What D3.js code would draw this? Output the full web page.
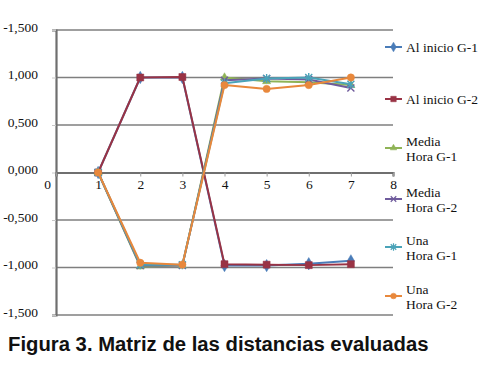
<!DOCTYPE html>
<html lang="es">
<head>
  <meta charset="UTF-8">
  <title>Matriz de las distancias evaluadas</title>
  <script src="https://d3js.org/d3.v7.min.js"></script>
  <style>
    body { margin: 0; background: #fff; }
  </style>
</head>
<body>
<svg width="481" height="369"></svg>
<script>
  // data
  var xs = [1, 2, 3, 4, 5, 6, 7];
  var alInicioG1 = [0, 1.000, 1.000, -0.980, -0.980, -0.960, -0.930];
  var alInicioG2 = [0, 1.000, 1.005, -0.965, -0.970, -0.975, -0.965];
  var mediaHoraG1 = [0, -0.990, -0.980, 1.000, 0.960, 0.950, 0.920];
  var mediaHoraG2 = [0, -0.980, -0.980, 0.970, 0.990, 0.980, 0.890];
  var unaHoraG1 = [0, -0.970, -0.970, 0.940, 0.990, 1.000, 0.930];
  var unaHoraG2 = [0, -0.950, -0.970, 0.920, 0.880, 0.920, 1.000];

  var yTicks = [-1.5, -1, -0.5, 0, 0.5, 1, 1.5];
  var yTickLabels = ['-1,500', '-1,000', '-0,500', '0,000', '0,500', '1,000', '-1,500'];
  var xTicks = [0, 1, 2, 3, 4, 5, 6, 7, 8];

  var series = [
    {name: ['Al inicio G-1'], values: alInicioG1, color: '#4a7cb8', marker: 'diamond'},
    {name: ['Al inicio G-2'], values: alInicioG2, color: '#993345', marker: 'square'},
    {name: ['Media', 'Hora G-1'], values: mediaHoraG1, color: '#8fb356', marker: 'triangle'},
    {name: ['Media', 'Hora G-2'], values: mediaHoraG2, color: '#6f5b9c', marker: 'x'},
    {name: ['Una', 'Hora G-1'], values: unaHoraG1, color: '#4aa3b8', marker: 'star'},
    {name: ['Una', 'Hora G-2'], values: unaHoraG2, color: '#e8883c', marker: 'circle'}
  ];
  var legendY = [47, 99, 148, 199, 247, 296];

  var svg = d3.select('svg');
  var serif = '"Liberation Serif", "Times New Roman", Times, serif';

  var x = d3.scaleLinear().domain([0, 8]).range([56, 393]);
  var y = d3.scaleLinear().domain([-1.5, 1.5]).range([315, 30]);

  // gridlines
  svg.append('g')
    .selectAll('line')
    .data(yTicks.filter(function (d) { return d !== 0; }))
    .enter().append('line')
    .attr('x1', x(0)).attr('x2', x(8))
    .attr('y1', function (d) { return y(d); })
    .attr('y2', function (d) { return y(d); })
    .attr('stroke', '#7f7f7f')
    .attr('stroke-width', 1.3);

  // y axis
  var yAxis = svg.append('g')
    .attr('transform', 'translate(' + x(0) + ',0)')
    .attr('font-family', serif)
    .call(d3.axisLeft(y).tickValues(yTicks).tickSize(4).tickPadding(14)
      .tickFormat(function (d, i) { return yTickLabels[i]; }));
  yAxis.attr('font-family', serif).attr('font-size', 13.5);
  yAxis.select('.domain').attr('stroke', '#6f6f6f').attr('stroke-width', 2.2);
  yAxis.selectAll('.tick line').attr('stroke', '#c8c8c8');
  yAxis.selectAll('.tick text')
    .style('font-family', serif).attr('fill', '#111')
    .attr('dy', '0.1em');

  // x axis through zero
  var xAxis = svg.append('g')
    .attr('transform', 'translate(0,' + y(0) + ')')
    .call(d3.axisBottom(x).tickValues(xTicks).tickSize(4).tickPadding(3)
      .tickFormat(d3.format('d')));
  xAxis.attr('font-family', serif).attr('font-size', 13.5);
  xAxis.select('.domain').attr('stroke', '#6f6f6f').attr('stroke-width', 2.2);
  xAxis.selectAll('.tick line').attr('stroke', '#9a9a9a');
  xAxis.selectAll('.tick text')
    .style('font-family', serif).attr('fill', '#111')
    .attr('dx', function (d) { return d === 0 ? '-0.65em' : 0; });

  function markerPath(type, size) {
    var s = size;
    if (type === 'diamond') return d3.symbol().type(d3.symbolDiamond).size(s * s * 0.9)();
    if (type === 'square') return d3.symbol().type(d3.symbolSquare).size(s * s)();
    if (type === 'triangle') return d3.symbol().type(d3.symbolTriangle).size(s * s * 0.6)();
    if (type === 'circle') return d3.symbol().type(d3.symbolCircle).size(s * s * 0.85)();
    var r = s / 2;
    if (type === 'x') return 'M' + -r + ',' + -r + 'L' + r + ',' + r + 'M' + -r + ',' + r + 'L' + r + ',' + -r;
    // star: x plus vertical bar
    return 'M' + -r + ',' + -r + 'L' + r + ',' + r + 'M' + -r + ',' + r + 'L' + r + ',' + -r +
      'M0,' + (-r - 1) + 'L0,' + (r + 1);
  }

  var line = d3.line()
    .x(function (d, i) { return x(xs[i]); })
    .y(function (d) { return y(d); });

  series.forEach(function (s) {
    var g = svg.append('g');
    g.append('path')
      .datum(s.values)
      .attr('fill', 'none')
      .attr('stroke', s.color)
      .attr('stroke-width', 2)
      .attr('stroke-linejoin', 'round')
      .attr('d', line);
    g.selectAll('.m')
      .data(s.values)
      .enter().append('path')
      .attr('transform', function (d, i) { return 'translate(' + x(xs[i]) + ',' + y(d) + ')'; })
      .attr('d', markerPath(s.marker, 7))
      .attr('fill', s.marker === 'x' || s.marker === 'star' ? 'none' : s.color)
      .attr('stroke', s.color)
      .attr('stroke-width', s.marker === 'x' || s.marker === 'star' ? 1.4 : 0.5);
  });

  // legend
  var legend = svg.append('g');
  series.forEach(function (s, i) {
    var ly = legendY[i];
    var lg = legend.append('g').attr('transform', 'translate(0,' + ly + ')');
    lg.append('line')
      .attr('x1', 385).attr('x2', 402)
      .attr('stroke', s.color).attr('stroke-width', 2);
    lg.append('path')
      .attr('transform', 'translate(393.5,0)')
      .attr('d', markerPath(s.marker, 5.5))
      .attr('fill', s.marker === 'x' || s.marker === 'star' ? 'none' : s.color)
      .attr('stroke', s.color)
      .attr('stroke-width', s.marker === 'x' || s.marker === 'star' ? 1.2 : 0.5);
    var t = lg.append('text')
      .attr('x', 406)
      .style('font-family', serif).attr('font-size', 13.5).attr('fill', '#111');
    if (s.name.length === 1) {
      t.attr('y', 4.5).text(s.name[0]);
    } else {
      t.selectAll('tspan').data(s.name).enter().append('tspan')
        .attr('x', 406)
        .attr('y', function (d, j) { return j === 0 ? -2.5 : 12.5; })
        .text(function (d) { return d; });
    }
  });

  // caption
  svg.append('text')
    .attr('x', 8).attr('y', 351)
    .style('font-family', '"Liberation Sans", Arial, sans-serif')
    .attr('font-weight', 'bold').attr('font-size', 20.3).attr('fill', '#111')
    .text('Figura 3. Matriz de las distancias evaluadas');
</script>
</body>
</html>
